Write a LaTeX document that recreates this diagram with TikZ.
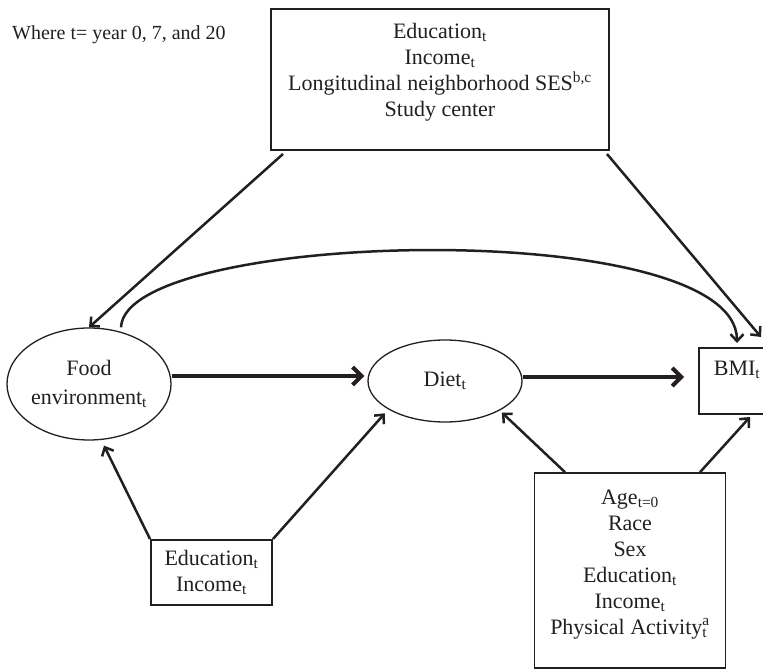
\documentclass[tikz,border=0pt]{standalone}
\usepackage{fontspec}
\setmainfont{Liberation Serif}
\usetikzlibrary{calc, arrows.meta, shapes.geometric}

\begin{document}
\begin{tikzpicture}[
    x=1pt, y=1pt,
]

\definecolor{ink_color}{RGB}{35,31,32}

\tikzstyle{sqr} = [rectangle, draw=ink_color, line width=2pt, text=ink_color, align=center, inner sep=0pt, font=\fontsize{22}{26}\selectfont]
\tikzstyle{ell} = [ellipse, draw=ink_color, line width=1.3pt, text=ink_color, align=center, inner sep=0pt, font=\fontsize{22}{29}\selectfont]
\tikzstyle{arr} = [-{Straight Barb[length=7pt, width=13pt]}, line width=2.5pt, draw=ink_color]
\tikzstyle{fat} = [-{Straight Barb[length=9pt, width=18pt]}, line width=4pt, draw=ink_color]

\path[use as bounding box, clip] (0,0) rectangle (763,669);

\node (note) [anchor=west, inner sep=0pt, text=ink_color, font=\fontsize{20}{24}\selectfont] at (12,634) {Where t= year 0, 7, and 20};

\node (covar) [sqr, minimum width=338pt, minimum height=141pt] at (440,589.5) {Education\textsubscript{t}\\Income\textsubscript{t}\\Longitudinal neighborhood SES\textsuperscript{b,c}\\Study center\\[-6pt]~};

\node (food) [ell, minimum width=152pt, minimum height=112pt] at (89,285) {Food\\environment\textsubscript{t}};
\node (diet) [ell, minimum width=154pt, minimum height=82pt, right of=food, node distance=356pt, yshift=3pt] {Diet\textsubscript{t}};
\node (bmi) [sqr, minimum width=76pt, minimum height=66pt, right of=diet, node distance=292pt] {BMI\textsubscript{t}\\~};

\node (ses) [sqr, minimum width=121pt, minimum height=65pt] at (211.5,96.5) {Education\textsubscript{t}\\Income\textsubscript{t}};
\node (confound) [sqr, minimum width=191pt, minimum height=195pt, line width=1.6pt] at (630,98.5) {Age\textsubscript{t=0}\\Race\\Sex\\Education\textsubscript{t}\\Income\textsubscript{t}\\Physical Activity\rlap{\textsubscript{t}}\raisebox{2pt}{\textsuperscript{a}}\\[-10pt]~};

\draw[arr] ([xshift=13pt, yshift=-3pt]covar.south west) -- (food.north);
\draw[arr] ([xshift=-3pt, yshift=-3pt]covar.south east) -- ([xshift=-15pt, yshift=10pt]bmi.north east);
\draw[arr] ([xshift=32pt]food.north) .. controls +(4,98) and +(0,128) .. ([yshift=4pt]bmi.north);

\draw[fat, shorten >=3pt] ([yshift=8pt]food.east) -- ([yshift=8pt]food.east -| diet.west);
\draw[fat, shorten >=14pt] ([yshift=4pt]diet.east) -- ([yshift=4pt]diet.east -| bmi.west);

\draw[arr] (ses.north west) -- ([xshift=15pt, yshift=-5pt]food.south);
\draw[arr] (ses.north east) -- ([xshift=-5pt, yshift=-3pt]diet.208);
\draw[arr] ([xshift=-65pt]confound.north) -- ([xshift=4pt, yshift=-1pt]diet.330);
\draw[arr] ([xshift=70pt]confound.north) -- ([xshift=13pt, yshift=-2pt]bmi.south);

\end{tikzpicture}
\end{document}
